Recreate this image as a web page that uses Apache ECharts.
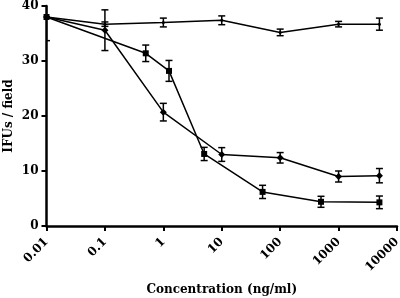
<!DOCTYPE html>
<html>
<head>
<meta charset="utf-8">
<script src="https://cdn.jsdelivr.net/npm/echarts@6/dist/echarts.min.js"></script>
<style>
html, body { margin: 0; padding: 0; background: #fff; }
#main { width: 400px; height: 298px; }
</style>
</head>
<body>
<div id="main"></div>
<script>
// x positions (ng/ml), means and error half-widths
var xFlat = [0.01, 0.1, 1, 10, 100, 1000, 5000];
var yFlat = [38, 36.7, 37.0, 37.4, 35.2, 36.7, 36.7];
var eFlat = [0, 0.4, 0.8, 0.8, 0.6, 0.5, 1.1];

var xSquare = [0.01, 0.5, 1.25, 5, 50, 500, 5000];
var ySquare = [38, 31.4, 28.2, 13.1, 6.2, 4.4, 4.3];
var eSquare = [0, 1.5, 1.9, 1.2, 1.2, 1.0, 1.15];

var xDiamond = [0.01, 0.1, 1, 10, 100, 1000, 5000];
var yDiamond = [38, 35.6, 20.7, 13.0, 12.4, 9.0, 9.15];
var eDiamond = [4.3, 3.7, 1.6, 1.25, 0.95, 1.0, 1.3];

var xTickLabels = ['0.01', '0.1', '1', '10', '100', '1000', '10000'];

var font = '"DejaVu Serif", serif';

function pts(xs, ys) {
    return xs.map(function (x, i) { return [x, ys[i]]; });
}
function errData(xs, ys, es) {
    return xs.map(function (x, i) { return [x, ys[i] - es[i], ys[i] + es[i]]; });
}
function renderErr(params, api) {
    var lo = api.coord([api.value(0), api.value(1)]);
    var hi = api.coord([api.value(0), api.value(2)]);
    var w = 3.5;
    var style = { stroke: '#000', lineWidth: 1.5 };
    return {
        type: 'group',
        children: [
            { type: 'line', shape: { x1: lo[0], y1: lo[1], x2: hi[0], y2: hi[1] }, style: style },
            { type: 'line', shape: { x1: lo[0] - w, y1: lo[1], x2: lo[0] + w, y2: lo[1] }, style: style },
            { type: 'line', shape: { x1: hi[0] - w, y1: hi[1], x2: hi[0] + w, y2: hi[1] }, style: style }
        ]
    };
}
function lineSeries(data, symbol, size) {
    return {
        type: 'line',
        data: data,
        symbol: symbol,
        symbolSize: size,
        showAllSymbol: true,
        itemStyle: { color: '#000' },
        lineStyle: { color: '#000', width: 1.5 },
        animation: false,
        z: 3
    };
}
function errSeries(data) {
    return {
        type: 'custom',
        data: data,
        renderItem: renderErr,
        encode: { x: 0, y: [1, 2] },
        clip: true,
        animation: false,
        z: 4
    };
}

var myChart = echarts.init(document.getElementById('main'));

myChart.setOption({
    backgroundColor: '#fff',
    grid: { left: 46.5, right: 3, top: 6, bottom: 72, containLabel: false, outerBoundsMode: 'none' },
    xAxis: {
        type: 'log',
        logBase: 10,
        min: 0.01,
        max: 10000,
        name: 'Concentration (ng/ml)',
        nameLocation: 'middle',
        nameGap: 58,
        nameMoveOverlap: false,
        nameTextStyle: { fontFamily: font, fontWeight: 'bold', fontSize: 12, color: '#000' },
        axisLine: { lineStyle: { color: '#000', width: 2.5 } },
        axisTick: { inside: false, length: 5, lineStyle: { color: '#000', width: 2 } },
        splitLine: { show: false },
        minorTick: { show: false },
        axisLabel: {
            rotate: 45,
            margin: 14,
            fontFamily: font,
            fontWeight: 'bold',
            fontSize: 12,
            color: '#000',
            formatter: function (v) {
                return xTickLabels[Math.round(Math.log10(v)) + 2];
            }
        }
    },
    yAxis: {
        type: 'value',
        min: 0,
        max: 40,
        interval: 10,
        name: 'IFUs / field',
        nameLocation: 'middle',
        nameGap: 32,
        nameMoveOverlap: false,
        nameTextStyle: { fontFamily: font, fontWeight: 'bold', fontSize: 12, color: '#000' },
        axisLine: { show: true, lineStyle: { color: '#000', width: 2.5 } },
        axisTick: { show: true, inside: false, length: 5, lineStyle: { color: '#000', width: 2 } },
        splitLine: { show: false },
        axisLabel: {
            margin: 8,
            fontFamily: font,
            fontWeight: 'bold',
            fontSize: 12,
            color: '#000'
        }
    },
    series: [
        lineSeries(pts(xFlat, yFlat), 'circle', 3),
        errSeries(errData(xFlat, yFlat, eFlat)),
        lineSeries(pts(xSquare, ySquare), 'rect', 6),
        errSeries(errData(xSquare, ySquare, eSquare)),
        lineSeries(pts(xDiamond, yDiamond), 'diamond', 7),
        errSeries(errData(xDiamond, yDiamond, eDiamond))
    ]
});
</script>
</body>
</html>
